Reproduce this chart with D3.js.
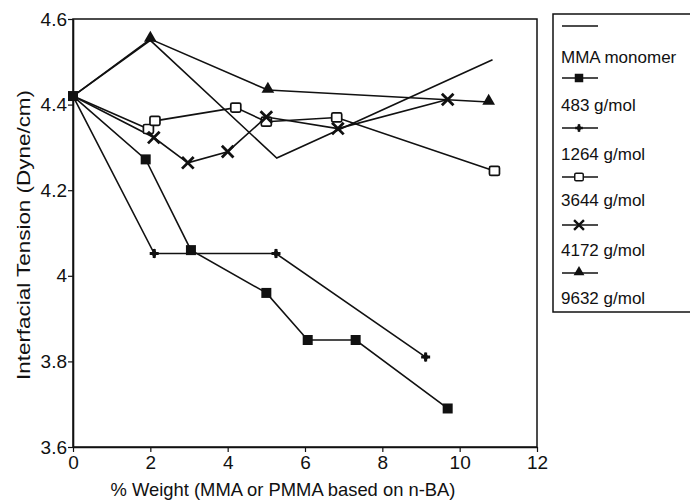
<!DOCTYPE html>
<html><head><meta charset="utf-8">
<script src="https://cdn.jsdelivr.net/npm/d3@7"></script>
<style>body{margin:0;background:#fff}svg{display:block}text{font-family:"Liberation Sans",Arial,sans-serif;fill:#111}</style>
</head><body><svg id="c" width="690" height="502"></svg>
<script>
const seriesNames = ["MMA monomer","483 g/mol","1264 g/mol","3644 g/mol","4172 g/mol","9632 g/mol"];
const mmaX = [0, 2.0, 5.27, 10.85];
const mmaY = [4.42, 4.55, 4.275, 4.505];
const s483X = [0, 1.88, 3.05, 5.0, 6.07, 7.31, 9.69];
const s483Y = [4.42, 4.272, 4.06, 3.96, 3.85, 3.85, 3.69];
const s1264X = [0, 2.1, 5.25, 9.12];
const s1264Y = [4.42, 4.052, 4.052, 3.81];
const s3644X = [0, 1.95, 2.12, 4.21, 5.0, 6.82, 10.9];
const s3644Y = [4.42, 4.343, 4.362, 4.393, 4.36, 4.37, 4.245];
const s4172X = [0, 2.09, 2.97, 4.0, 5.0, 6.85, 9.69];
const s4172Y = [4.42, 4.323, 4.264, 4.29, 4.371, 4.344, 4.412];
const s9632X = [0, 2.0, 5.04, 10.75];
const s9632Y = [4.42, 4.553, 4.434, 4.406];
const xTicks = [0, 2, 4, 6, 8, 10, 12];
const yTicks = [3.6, 3.8, 4.0, 4.2, 4.4, 4.6];
const yTickLabels = ["3.6", "3.8", "4", "4.2", "4.4", "4.6"];
const xTitle = "% Weight (MMA or PMMA based on n-BA)";
const yTitle = "Interfacial Tension (Dyne/cm)";

const svg = d3.select("#c");
const L = 73, R = 537, T = 19, B = 447;
const x = d3.scaleLinear().domain([0, 12]).range([L, R]);
const y = d3.scaleLinear().domain([3.6, 4.6]).range([B, T]);

const markers = [null, "sqf", "cross", "sqo", "times", "tri"];
const xs = [mmaX, s483X, s1264X, s3644X, s4172X, s9632X];
const ys = [mmaY, s483Y, s1264Y, s3644Y, s4172Y, s9632Y];
const FONT = "'Liberation Sans',Arial,sans-serif";

function drawMarker(g, type, cx, cy, k) {
  if (!type) return;
  const m = g.append("g").attr("transform", `translate(${cx},${cy}) scale(${k})`);
  if (type === "sqf") {
    m.append("rect").attr("x", -5).attr("y", -5).attr("width", 10).attr("height", 10).attr("fill", "#111");
  } else if (type === "sqo") {
    m.append("rect").attr("x", -5).attr("y", -4.5).attr("width", 10).attr("height", 9).attr("rx", 1.5)
      .attr("fill", "#fff").attr("stroke", "#111").attr("stroke-width", 1.7);
  } else if (type === "cross") {
    m.append("path").attr("d", d3.symbol(d3.symbolCross, 45)()).attr("fill", "#111");
    m.append("path").attr("d", d3.symbol(d3.symbolDiamond, 28)()).attr("fill", "#111");
  } else if (type === "times") {
    m.append("path").attr("d", d3.symbol(d3.symbolTimes, 90)()).attr("fill", "none")
      .attr("stroke", "#111").attr("stroke-width", 2.8);
  } else if (type === "tri") {
    m.append("path").attr("transform", "translate(0,-1)")
      .attr("d", d3.symbol(d3.symbolTriangle, 70)()).attr("fill", "#111");
  }
}

// frame
svg.append("rect").attr("x", L).attr("y", T).attr("width", R - L).attr("height", B - T)
  .attr("fill", "none").attr("stroke", "#111").attr("stroke-width", 1.5);

// axes
const xAxis = d3.axisBottom(x).tickValues(xTicks).tickSize(5).tickSizeOuter(0).tickFormat(d3.format("d"));
const gx = svg.append("g").attr("transform", `translate(0,${B})`).call(xAxis);
gx.attr("font-size", 19).attr("font-family", FONT);
gx.select(".domain").attr("stroke", "#111").attr("stroke-width", 1.6);
gx.selectAll(".tick line").attr("stroke", "#111").attr("stroke-width", 1.2);
gx.selectAll(".tick text").attr("dy", "0.71em").attr("y", 9).attr("fill", "#111");

const yAxis = d3.axisLeft(y).tickValues(yTicks).tickSize(5).tickSizeOuter(0).tickFormat((d, i) => yTickLabels[i]);
const gy = svg.append("g").attr("transform", `translate(${L},0)`).call(yAxis);
gy.attr("font-size", 19).attr("font-family", FONT);
gy.select(".domain").attr("stroke", "#111").attr("stroke-width", 1.6);
gy.selectAll(".tick line").attr("stroke", "#111").attr("stroke-width", 1.2);
gy.selectAll(".tick text").attr("x", -6).attr("fill", "#111");

// titles
svg.append("text").attr("x", 283).attr("y", 496).attr("text-anchor", "middle")
  .attr("font-size", 19).attr("textLength", 345).attr("lengthAdjust", "spacingAndGlyphs").text(xTitle);
svg.append("text").attr("transform", `translate(30,235) rotate(-90)`).attr("text-anchor", "middle")
  .attr("font-size", 19).attr("textLength", 290).attr("lengthAdjust", "spacingAndGlyphs").text(yTitle);

// series
const line = d3.line().x(d => x(d[0])).y(d => y(d[1]));
const plot = svg.append("g");
xs.forEach((xv, i) => {
  const pts = xv.map((v, j) => [v, ys[i][j]]);
  plot.append("path").attr("d", line(pts)).attr("fill", "none").attr("stroke", "#111").attr("stroke-width", 1.6);
});
xs.forEach((xv, i) => {
  xv.forEach((v, j) => { if (j > 0 || i === 1) drawMarker(plot, markers[i], x(v), y(ys[i][j]), 1); });
});

// legend
const lg = svg.append("g");
lg.append("rect").attr("x", 553).attr("y", 14).attr("width", 150).attr("height", 298)
  .attr("fill", "#fff").attr("stroke", "#111").attr("stroke-width", 1.5);
const lineY = [26, 78, 128, 177, 225, 273];
const textY = [63, 111, 160, 206, 256, 304];
seriesNames.forEach((n, i) => {
  lg.append("line").attr("x1", 562).attr("x2", 598).attr("y1", lineY[i]).attr("y2", lineY[i])
    .attr("stroke", "#111").attr("stroke-width", 1.3);
  drawMarker(lg, markers[i], 579, lineY[i], 0.85);
  lg.append("text").attr("x", 561).attr("y", textY[i]).attr("font-size", 17).text(n);
});
</script></body></html>
